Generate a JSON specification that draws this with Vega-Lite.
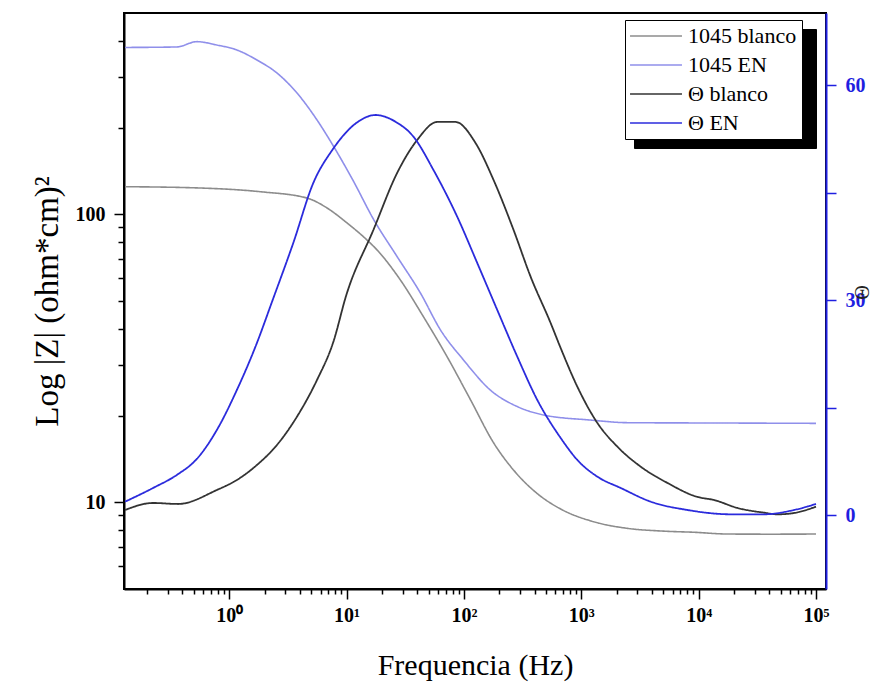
{
  "$schema": "https://vega.github.io/schema/vega-lite/v6.json",
  "width": 702,
  "height": 576,
  "autosize": {"type": "none"},
  "padding": {"left": 124, "top": 13, "right": 47, "bottom": 96},
  "config": {
    "font": "Liberation Serif",
    "view": {"stroke": "black", "strokeWidth": 2},
    "axis": {"grid": false, "titleFontWeight": "normal", "titleFont": "Liberation Serif", "labelFont": "Liberation Serif", "titleColor": "black"}
  },
  "datasets": {
    "z": [
      {"freq": 0.1296, "z": 124.7, "series": "1045 blanco"},
      {"freq": 0.5655, "z": 123.4, "series": "1045 blanco"},
      {"freq": 1.838, "z": 119.8, "series": "1045 blanco"},
      {"freq": 4.6, "z": 113.9, "series": "1045 blanco"},
      {"freq": 6.82, "z": 105.2, "series": "1045 blanco"},
      {"freq": 10.1, "z": 93.3, "series": "1045 blanco"},
      {"freq": 14.96, "z": 81.4, "series": "1045 blanco"},
      {"freq": 18.2, "z": 75.2, "series": "1045 blanco"},
      {"freq": 28.8, "z": 59.1, "series": "1045 blanco"},
      {"freq": 45.2, "z": 44.1, "series": "1045 blanco"},
      {"freq": 72.0, "z": 32.0, "series": "1045 blanco"},
      {"freq": 113.8, "z": 22.7, "series": "1045 blanco"},
      {"freq": 178.9, "z": 16.1, "series": "1045 blanco"},
      {"freq": 275.6, "z": 12.7, "series": "1045 blanco"},
      {"freq": 424.6, "z": 10.7, "series": "1045 blanco"},
      {"freq": 667.3, "z": 9.48, "series": "1045 blanco"},
      {"freq": 1276, "z": 8.56, "series": "1045 blanco"},
      {"freq": 2474, "z": 8.12, "series": "1045 blanco"},
      {"freq": 4760, "z": 7.95, "series": "1045 blanco"},
      {"freq": 9101, "z": 7.87, "series": "1045 blanco"},
      {"freq": 17640, "z": 7.76, "series": "1045 blanco"},
      {"freq": 41300, "z": 7.75, "series": "1045 blanco"},
      {"freq": 100000, "z": 7.76, "series": "1045 blanco"},
      {"freq": 0.1296, "z": 379.6, "series": "1045 EN"},
      {"freq": 0.358, "z": 381.1, "series": "1045 EN"},
      {"freq": 0.53, "z": 397.6, "series": "1045 EN"},
      {"freq": 0.785, "z": 387.1, "series": "1045 EN"},
      {"freq": 1.163, "z": 372.0, "series": "1045 EN"},
      {"freq": 1.723, "z": 343.4, "series": "1045 EN"},
      {"freq": 2.553, "z": 309.5, "series": "1045 EN"},
      {"freq": 3.781, "z": 263.8, "series": "1045 EN"},
      {"freq": 5.602, "z": 212.6, "series": "1045 EN"},
      {"freq": 7.716, "z": 172.7, "series": "1045 EN"},
      {"freq": 11.43, "z": 130.5, "series": "1045 EN"},
      {"freq": 16.93, "z": 96.3, "series": "1045 EN"},
      {"freq": 26.97, "z": 71.3, "series": "1045 EN"},
      {"freq": 42.6, "z": 53.3, "series": "1045 EN"},
      {"freq": 63.1, "z": 39.7, "series": "1045 EN"},
      {"freq": 99.2, "z": 31.2, "series": "1045 EN"},
      {"freq": 168.7, "z": 24.5, "series": "1045 EN"},
      {"freq": 285, "z": 21.5, "series": "1045 EN"},
      {"freq": 477.9, "z": 20.1, "series": "1045 EN"},
      {"freq": 1203, "z": 19.3, "series": "1045 EN"},
      {"freq": 2474, "z": 18.9, "series": "1045 EN"},
      {"freq": 15470, "z": 18.85, "series": "1045 EN"},
      {"freq": 100000, "z": 18.8, "series": "1045 EN"}
    ],
    "theta": [
      {"freq": 0.1296, "theta": 0.72, "series": "Θ blanco"},
      {"freq": 0.2246, "theta": 1.7, "series": "Θ blanco"},
      {"freq": 0.367, "theta": 1.56, "series": "Θ blanco"},
      {"freq": 0.785, "theta": 3.51, "series": "Θ blanco"},
      {"freq": 1.163, "theta": 4.91, "series": "Θ blanco"},
      {"freq": 1.723, "theta": 7.0, "series": "Θ blanco"},
      {"freq": 2.553, "theta": 9.79, "series": "Θ blanco"},
      {"freq": 3.781, "theta": 13.74, "series": "Θ blanco"},
      {"freq": 5.602, "theta": 18.86, "series": "Θ blanco"},
      {"freq": 7.716, "theta": 24.16, "series": "Θ blanco"},
      {"freq": 9.96, "theta": 30.71, "series": "Θ blanco"},
      {"freq": 16.93, "theta": 39.78, "series": "Θ blanco"},
      {"freq": 26.97, "theta": 47.73, "series": "Θ blanco"},
      {"freq": 39.96, "theta": 52.33, "series": "Θ blanco"},
      {"freq": 59.2, "theta": 54.85, "series": "Θ blanco"},
      {"freq": 84.8, "theta": 54.85, "series": "Θ blanco"},
      {"freq": 125.6, "theta": 51.92, "series": "Θ blanco"},
      {"freq": 178.9, "theta": 46.76, "series": "Θ blanco"},
      {"freq": 265, "theta": 39.78, "series": "Θ blanco"},
      {"freq": 370.1, "theta": 33.27, "series": "Θ blanco"},
      {"freq": 548.1, "theta": 26.81, "series": "Θ blanco"},
      {"freq": 667.3, "theta": 23.32, "series": "Θ blanco"},
      {"freq": 926, "theta": 17.92, "series": "Θ blanco"},
      {"freq": 1372, "theta": 12.86, "series": "Θ blanco"},
      {"freq": 2032, "theta": 9.55, "series": "Θ blanco"},
      {"freq": 3213, "theta": 6.76, "series": "Θ blanco"},
      {"freq": 5428, "theta": 4.49, "series": "Θ blanco"},
      {"freq": 9786, "theta": 2.54, "series": "Θ blanco"},
      {"freq": 13480, "theta": 2.12, "series": "Θ blanco"},
      {"freq": 21480, "theta": 1.0, "series": "Θ blanco"},
      {"freq": 36000, "theta": 0.35, "series": "Θ blanco"},
      {"freq": 47130, "theta": 0.12, "series": "Θ blanco"},
      {"freq": 64930, "theta": 0.3, "series": "Θ blanco"},
      {"freq": 100000, "theta": 1.18, "series": "Θ blanco"},
      {"freq": 0.1296, "theta": 1.88, "series": "Θ EN"},
      {"freq": 0.2246, "theta": 3.79, "series": "Θ EN"},
      {"freq": 0.358, "theta": 5.61, "series": "Θ EN"},
      {"freq": 0.53, "theta": 7.84, "series": "Θ EN"},
      {"freq": 0.785, "theta": 11.88, "series": "Θ EN"},
      {"freq": 1.163, "theta": 17.46, "series": "Θ EN"},
      {"freq": 1.723, "theta": 24.02, "series": "Θ EN"},
      {"freq": 2.314, "theta": 29.74, "series": "Θ EN"},
      {"freq": 3.517, "theta": 37.97, "series": "Θ EN"},
      {"freq": 5.208, "theta": 46.34, "series": "Θ EN"},
      {"freq": 7.565, "theta": 50.94, "series": "Θ EN"},
      {"freq": 12.29, "theta": 54.78, "series": "Θ EN"},
      {"freq": 17.61, "theta": 55.82, "series": "Θ EN"},
      {"freq": 26.09, "theta": 54.89, "series": "Θ EN"},
      {"freq": 37.15, "theta": 52.8, "series": "Θ EN"},
      {"freq": 55.04, "theta": 48.15, "series": "Θ EN"},
      {"freq": 87.66, "theta": 41.64, "series": "Θ EN"},
      {"freq": 129.9, "theta": 35.18, "series": "Θ EN"},
      {"freq": 192.4, "theta": 28.62, "series": "Θ EN"},
      {"freq": 285, "theta": 22.11, "series": "Θ EN"},
      {"freq": 422.1, "theta": 16.07, "series": "Θ EN"},
      {"freq": 667.3, "theta": 10.77, "series": "Θ EN"},
      {"freq": 926, "theta": 7.7, "series": "Θ EN"},
      {"freq": 1372, "theta": 5.37, "series": "Θ EN"},
      {"freq": 2169, "theta": 3.79, "series": "Θ EN"},
      {"freq": 3911, "theta": 1.88, "series": "Θ EN"},
      {"freq": 8040, "theta": 0.72, "series": "Θ EN"},
      {"freq": 18820, "theta": 0.12, "series": "Θ EN"},
      {"freq": 36000, "theta": 0.12, "series": "Θ EN"},
      {"freq": 64930, "theta": 0.72, "series": "Θ EN"},
      {"freq": 100000, "theta": 1.56, "series": "Θ EN"}
    ]
  },
  "encoding": {
    "x": {
      "field": "freq",
      "type": "quantitative",
      "scale": {"type": "log", "domain": [0.127, 121700]},
      "axis": {
        "values": [0.2,0.3,0.4,0.5,0.6,0.7,0.8,0.9,1,2,3,4,5,6,7,8,9,10,20,30,40,50,60,70,80,90,100,200,300,400,500,600,700,800,900,1000,2000,3000,4000,5000,6000,7000,8000,9000,10000,20000,30000,40000,50000,60000,70000,80000,90000,100000],
        "labelExpr": "datum.value == 1 ? '10⁰' : datum.value == 10 ? '10¹' : datum.value == 100 ? '10²' : datum.value == 1000 ? '10³' : datum.value == 10000 ? '10⁴' : datum.value == 100000 ? '10⁵' : ''",
        "tickSize": {"condition": {"test": "indexof([1,10,100,1000,10000,100000], datum.value) >= 0", "value": 10}, "value": 5},
        "labelFontSize": 20,
        "labelFontWeight": "bold",
        "labelColor": "black",
        "labelPadding": 6,
        "labelOverlap": false,
        "labelFlush": false,
        "labelBound": false,
        "title": "Frequencia (Hz)",
        "titleFontSize": 30,
        "titleY": 85,
        "titleBaseline": "alphabetic",
        "domainColor": "black",
        "domainWidth": 2,
        "tickColor": "black",
        "tickWidth": 1.5
      }
    },
    "color": {
      "field": "series",
      "type": "nominal",
      "scale": {
        "domain": ["1045 blanco", "1045 EN", "Θ blanco", "Θ EN"],
        "range": ["#8c8c8c", "#8f8fea", "#333333", "#2b2bdc"]
      },
      "legend": {
        "orient": "none",
        "legendX": 501,
        "legendY": 7,
        "title": null,
        "direction": "vertical",
        "padding": 5,
        "fillColor": "white",
        "strokeColor": "black",
        "labelFont": "Liberation Serif",
        "labelFontSize": 22,
        "labelColor": "black",
        "labelOffset": 36,
        "rowPadding": 7,
        "symbolType": "M-1.29,0H4.82",
        "symbolSize": 289,
        "symbolStrokeWidth": 1.6,
        "labelLimit": 300,
        "zindex": 2
      }
    },
    "strokeDash": {
      "field": "series",
      "type": "nominal",
      "scale": {"range": [[1, 0], [1, 0], [1, 0], [1, 0]]},
      "legend": {
        "orient": "none",
        "legendX": 510,
        "legendY": 16,
        "title": null,
        "direction": "vertical",
        "padding": 5,
        "fillColor": "black",
        "strokeColor": "black",
        "labelFont": "Liberation Serif",
        "labelFontSize": 22,
        "labelColor": "black",
        "labelExpr": "''",
        "labelOffset": 0,
        "rowPadding": 7,
        "symbolType": "M-1.29,0H18.47",
        "symbolSize": 289,
        "symbolStrokeWidth": 1.6,
        "symbolStrokeColor": "black",
        "labelLimit": 300,
        "zindex": 1
      }
    }
  },
  "layer": [
    {
      "data": {"name": "z"},
      "mark": {"type": "line", "strokeWidth": 1.6, "clip": true, "interpolate": "monotone"},
      "encoding": {
        "y": {
          "field": "z",
          "type": "quantitative",
          "scale": {"type": "log", "domain": [5, 500]},
          "axis": {
            "values": [6,7,8,9,10,20,30,40,50,60,70,80,90,100,200,300,400],
            "labelExpr": "datum.value == 10 ? '10' : datum.value == 100 ? '100' : ''",
            "tickSize": {"condition": {"test": "datum.value == 10 || datum.value == 100", "value": 10}, "value": 6},
            "labelFontSize": 20,
            "labelFontWeight": "bold",
            "labelColor": "black",
            "labelPadding": 9,
            "labelOverlap": false,
            "labelFlush": false,
            "labelBound": false,
            "title": "Log |Z| (ohm*cm)²",
            "titleFontSize": 33,
            "titleAngle": -90,
            "titleX": -67,
            "titleY": 288,
            "titleAlign": "center",
            "titleBaseline": "alphabetic",
            "domainColor": "black",
            "domainWidth": 2,
            "tickColor": "black",
            "tickWidth": 1.5
          }
        }
      }
    },
    {
      "data": {"name": "theta"},
      "mark": {"type": "line", "strokeWidth": 1.8, "clip": true, "interpolate": "monotone"},
      "encoding": {
        "y": {
          "field": "theta",
          "type": "quantitative",
          "scale": {"domain": [-10.3, 70.05], "nice": false, "zero": false},
          "axis": {
            "orient": "right",
            "values": [0, 15, 30, 45, 60],
            "labelExpr": "datum.value == 0 ? '0' : datum.value == 30 ? '30' : datum.value == 60 ? '60' : ''",
            "tickSize": 10,
            "labelFontSize": 20,
            "labelFontWeight": "bold",
            "labelColor": "#1f1fe0",
            "labelPadding": 9,
            "labelOverlap": false,
            "labelFlush": false,
            "labelBound": false,
            "title": "Θ",
            "titleFontSize": 20,
            "titleAngle": 90,
            "titleX": 34,
            "titleY": 279,
            "titleAlign": "center",
            "titleBaseline": "middle",
            "titleColor": "#222222",
            "domainColor": "#1f1fe0",
            "domainWidth": 2,
            "tickColor": "#1f1fe0",
            "tickWidth": 1.5
          }
        }
      }
    }
  ],
  "resolve": {"scale": {"y": "independent"}}
}
